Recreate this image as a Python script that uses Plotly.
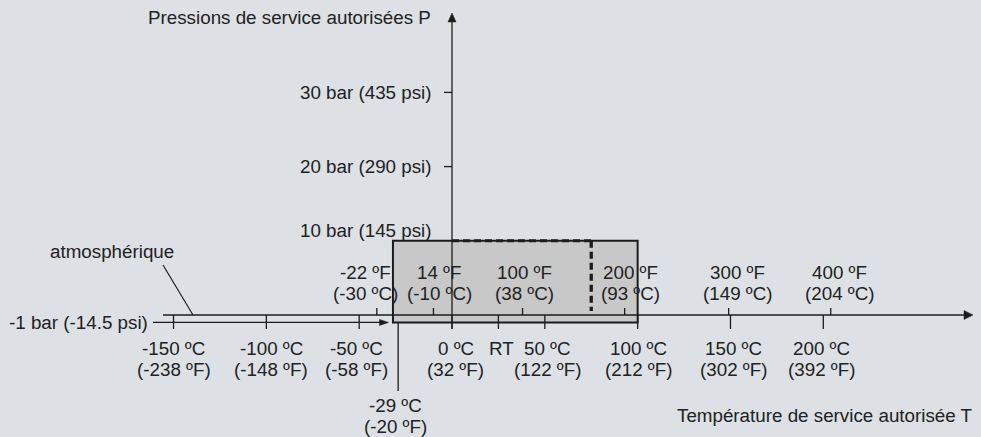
import plotly.graph_objects as go

# ---------------- data ----------------
celsius_ticks = [-150, -100, -50, 0, 25, 50, 100, 150, 200]
celsius_line1 = ["-150 ºC", "-100 ºC", "-50 ºC", "0 ºC", "RT", "50 ºC", "100 ºC", "150 ºC", "200 ºC"]
celsius_line2 = ["(-238 ºF)", "(-148 ºF)", "(-58 ºF)", "(32 ºF)", "", "(122 ºF)", "(212 ºF)", "(302 ºF)", "(392 ºF)"]

# positions (in °C on the drawn scale) of the Fahrenheit ticks as shown in the picture
fahrenheit_ticks_c = [-40.5, -10, 38, 93, 149, 204]
fahrenheit_line1 = ["-22 ºF", "14 ºF", "100 ºF", "200 ºF", "300 ºF", "400 ºF"]
fahrenheit_line2 = ["(-30 ºC)", "(-10 ºC)", "(38 ºC)", "(93 ºC)", "(149 ºC)", "(204 ºC)"]

pressure_ticks = [30, 20, 10]
pressure_labels = ["30 bar (435 psi)", "20 bar (290 psi)", "10 bar (145 psi)"]

vacuum_bar = -1
vacuum_label = "-1 bar (-14.5 psi)"
min_temp = -29
min_temp_label = ["-29 ºC", "(-20 ºF)"]
box_temp = [-31.8, 100]
box_pressure = [-1, 10]
dashed_temp = [0, 75]
dashed_pressure = 10

y_title = "Pressions de service autorisées P"
x_title = "Température de service autorisée T"
atm_label = "atmosphérique"

# ---------------- layout helpers ----------------
W, H = 981, 437
X0PX, Y0PX = 452.0, 315.0      # pixel of origin
SX, SY = 1.8565, 7.42           # px per °C, px per bar
xmin, xmax = -X0PX / SX, (W - X0PX) / SX
ymin, ymax = -(H - Y0PX) / SY, Y0PX / SY


def tx(px):
    return (px - X0PX) / SX


def ty(py):
    return (Y0PX - py) / SY


dx = 1 / SX
dy = 1 / SY

LINE = "#1c1c1c"
TXT = "#222222"
FONT = dict(family="Liberation Sans, Arial, sans-serif", size=18.8, color=TXT)

fig = go.Figure()
shapes = []
ann = []


def line(x0, y0, x1, y1, w=1.3, color=LINE, dash=None):
    d = dict(type="line", xref="x", yref="y", x0=x0, y0=y0, x1=x1, y1=y1,
             line=dict(color=color, width=w))
    if dash:
        d["line"]["dash"] = dash
    shapes.append(d)


def tri(points):
    p = "M " + " L ".join(f"{a},{b}" for a, b in points) + " Z"
    shapes.append(dict(type="path", xref="x", yref="y", path=p,
                       fillcolor=LINE, line=dict(color=LINE, width=0.5)))


# permitted range box
shapes.append(dict(type="rect", xref="x", yref="y",
                   x0=box_temp[0], x1=box_temp[1], y0=box_pressure[0], y1=box_pressure[1],
                   fillcolor="#c8c8c8", line=dict(color=LINE, width=2)))

# dashed limit
line(dashed_temp[0], dashed_pressure, dashed_temp[1], dashed_pressure, w=3, dash="7px,4px")
line(dashed_temp[1], dashed_pressure, dashed_temp[1], ty(311), w=3.3, dash="7px,4px")

# x axis (atmospheric line) with arrow
x_tip = tx(973)
line(tx(163), 0, x_tip - 8 * dx, 0)
tri([(x_tip, 0), (x_tip - 9 * dx, 4.5 * dy), (x_tip - 9 * dx, -4.5 * dy)])

# y axis with arrow
y_tip = ty(13)
line(0, ty(329), 0, y_tip - 8 * dy)
tri([(0, y_tip), (4 * dx, y_tip - 9 * dy), (-4 * dx, y_tip - 9 * dy)])

# vacuum line with arrow
v_tip = tx(388.5)
line(tx(153), vacuum_bar, v_tip - 8 * dx, vacuum_bar)
tri([(v_tip, vacuum_bar), (v_tip - 9 * dx, vacuum_bar + 3 * dy), (v_tip - 9 * dx, vacuum_bar - 3 * dy)])

# celsius ticks (downward)
for t in celsius_ticks:
    line(t, 0, t, -14 * dy)

# fahrenheit ticks (upward)
for t in fahrenheit_ticks_c:
    line(t, 0, t, 7 * dy)

# pressure ticks
for p in pressure_ticks[:2]:
    line(-8 * dx, p, 0, p)

# min temperature line
line(min_temp, vacuum_bar, min_temp, ty(391))

# atmospheric leader
line(tx(163), ty(265), tx(193), 0, w=1.2)

# origin circle
fig.add_trace(go.Scatter(x=[0], y=[0], mode="markers",
                         marker=dict(symbol="circle-open", size=8, color=LINE, line=dict(width=1.2)),
                         hoverinfo="skip", showlegend=False))


def text(x, y, s, xanchor="center", xshift=0):
    ann.append(dict(x=x, y=y, xref="x", yref="y", text=s, showarrow=False,
                    xanchor=xanchor, yanchor="middle", xshift=xshift, font=FONT))


# celsius labels
c_shift = [0, 5, -3, 3.5, 3, 2.5, 1, 3, -2]
for t, a, b, s in zip(celsius_ticks, celsius_line1, celsius_line2, c_shift):
    text(t, ty(348), a, xshift=s)
    if b:
        text(t, ty(369), b, xshift=s)

# fahrenheit labels
f_shift = [-11, 6, 2, 6, 9, 9]
for t, a, b, s in zip(fahrenheit_ticks_c, fahrenheit_line1, fahrenheit_line2, f_shift):
    text(t, ty(272), a, xshift=s)
    text(t, ty(293.5), b, xshift=s)

# pressure labels
p_y = [ty(92.3), ty(166), ty(230)]
for yy, lab in zip(p_y, pressure_labels):
    text(0, yy, lab, xanchor="right", xshift=-18)

text(tx(153), vacuum_bar, vacuum_label, xanchor="right", xshift=-3)
text(min_temp, ty(405), min_temp_label[0], xshift=-3)
text(min_temp, ty(426), min_temp_label[1], xshift=-3)
text(tx(112), ty(251), atm_label)
text(tx(433), ty(17.5), y_title, xanchor="right")
text(tx(975), ty(415), x_title, xanchor="right")

fig.update_layout(
    width=W, height=H, autosize=False,
    margin=dict(l=0, r=0, t=0, b=0, pad=0),
    paper_bgcolor="#dde1e5", plot_bgcolor="#dde1e5",
    xaxis=dict(range=[xmin, xmax], visible=False, fixedrange=True),
    yaxis=dict(range=[ymin, ymax], visible=False, fixedrange=True),
    shapes=shapes, annotations=ann, showlegend=False,
)

fig.write_html("out.html", config=dict(displayModeBar=False))

# remove the default page margin so the figure fills the window exactly
with open("out.html", "r", encoding="utf-8") as f:
    html = f.read()
html = html.replace("<head>", "<head><style>html,body{margin:0;padding:0;overflow:hidden;background:#dde1e5;}</style>", 1)
with open("out.html", "w", encoding="utf-8") as f:
    f.write(html)
